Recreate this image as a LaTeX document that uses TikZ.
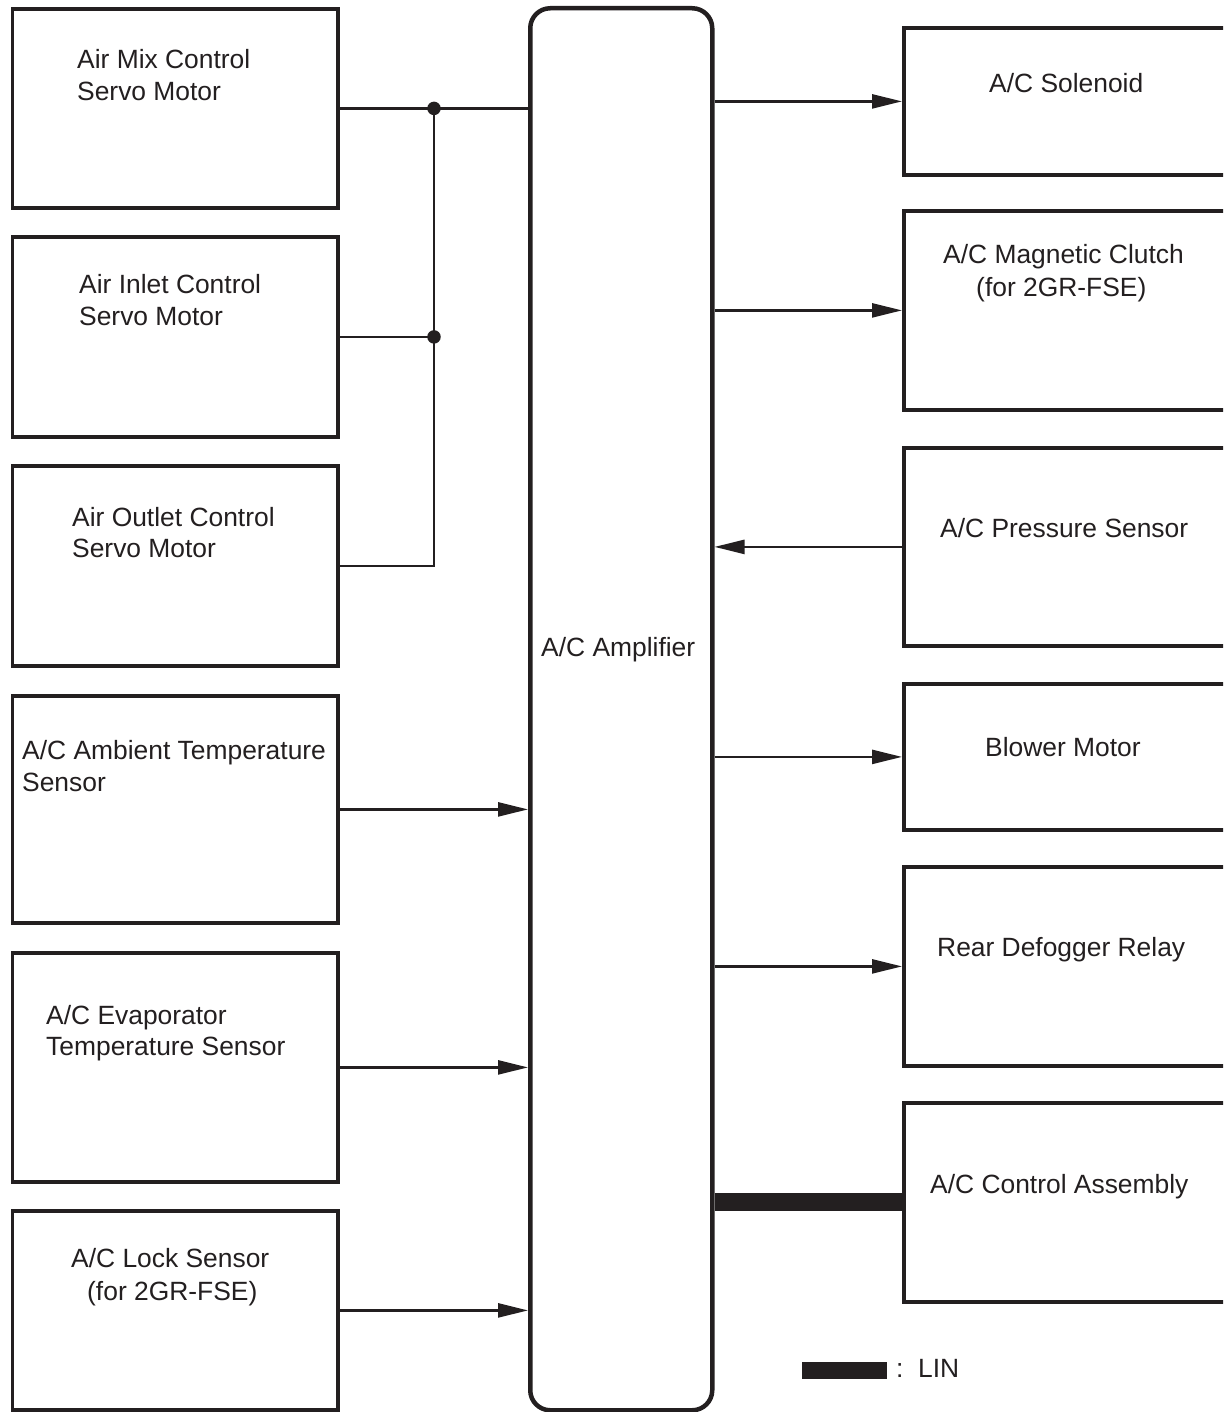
\documentclass[tikz,border=0pt]{standalone}
\usepackage{fontspec}
\setmainfont{Liberation Sans}
\usetikzlibrary{arrows.meta}
\definecolor{ink}{HTML}{231F20}
\begin{document}
\begin{tikzpicture}[x=1pt,y=-1pt,
  box/.style={draw=ink, line width=3.8pt, rectangle, inner sep=0pt, anchor=north west},
  ampbox/.style={draw=ink, line width=4.5pt, rounded corners=20pt, rectangle, inner sep=0pt, anchor=north west},
  txt/.style={text=ink, font=\fontsize{26.4}{32}\selectfont, inner sep=0pt, anchor=base west},
  conn/.style={draw=ink, line width=2.5pt},
  arr/.style={conn, -{Triangle[length=30pt, width=14pt]}},
  linbus/.style={draw=ink, line width=18pt},
  joint/.style={circle, fill=ink, inner sep=0pt, minimum size=13.5pt}
]
% canvas and frame
\fill[white] (0,0) rectangle (1223,1412);
\path[use as bounding box] (0,0) rectangle (1223,1412);
\clip (0,0) rectangle (1223,1412);

% central amplifier
\node[ampbox, minimum width=182pt, minimum height=1402pt] (amp) at (528,6) {};
\node[txt] (ampt) at (541,656) {A/C Amplifier};

% left column
\node[box, minimum width=325.5pt, minimum height=199pt] (a1) at (10.5,7) {};
\node[box, minimum width=325.5pt, minimum height=200pt] (a2) at (10.5,235) {};
\node[box, minimum width=325.5pt, minimum height=200pt] (a3) at (10.5,464) {};
\node[box, minimum width=325.5pt, minimum height=227pt] (a4) at (10.5,694) {};
\node[box, minimum width=325.5pt, minimum height=229pt] (a5) at (10.5,951) {};
\node[box, minimum width=325.5pt, minimum height=199pt] (a6) at (10.5,1209) {};

\node[txt] (a1t1) at (77,69) {Air Mix Control};
\node[txt] (a1t2) at (77,101) {Servo Motor};
\node[txt] (a2t1) at (79,294) {Air Inlet Control};
\node[txt] (a2t2) at (79,325) {Servo Motor};
\node[txt] (a3t1) at (72,526) {Air Outlet Control};
\node[txt] (a3t2) at (72,557) {Servo Motor};
\node[txt] (a4t1) at (22,759) {A/C Ambient Temperature};
\node[txt] (a4t2) at (22,791) {Sensor};
\node[txt] (a5t1) at (46,1024) {A/C Evaporator};
\node[txt] (a5t2) at (46,1055) {Temperature Sensor};
\node[txt] (a6t1) at (71,1267) {A/C Lock Sensor};
\node[txt] (a6t2) at (87,1300) {(for 2GR-FSE)};

% right column (boxes run past the right edge)
\node[box, minimum width=398pt, minimum height=147pt] (r1) at (902,26) {};
\node[box, minimum width=398pt, minimum height=199pt] (r2) at (902,209) {};
\node[box, minimum width=398pt, minimum height=198pt] (r3) at (902,446) {};
\node[box, minimum width=398pt, minimum height=146pt] (r4) at (902,682) {};
\node[box, minimum width=398pt, minimum height=199pt] (r5) at (902,865) {};
\node[box, minimum width=398pt, minimum height=199pt] (r6) at (902,1101) {};

\node[txt] (r1t1) at (989,93) {A/C Solenoid};
\node[txt] (r2t1) at (943,264) {A/C Magnetic Clutch};
\node[txt] (r2t2) at (976,297) {(for 2GR-FSE)};
\node[txt] (r3t1) at (940,537) {A/C Pressure Sensor};
\node[txt] (r4t1) at (985,756) {Blower Motor};
\node[txt] (r5t1) at (937,956) {Rear Defogger Relay};
\node[txt] (r6t1) at (930,1193) {A/C Control Assembly};

% servo motor bus
\coordinate (j1) at (434,0 |- a1.east);
\coordinate (j2) at (434,0 |- a2.east);
\coordinate (j3) at (434,0 |- a3.east);
\draw[conn] (a1.east) -- (amp.west |- a1.east);
\draw[conn] (a2.east) -- (j2);
\draw[conn] (a3.east) -- (j3) -- (j1);
\node[joint] (d1) at (j1) {};
\node[joint] (d2) at (j2) {};

% sensor inputs
\draw[arr] (a4.east) -- (amp.west |- a4.east);
\draw[arr] (a5.east) -- (amp.west |- a5.east);
\draw[arr] (a6.east) -- (amp.west |- a6.east);

% outputs and pressure input
\draw[arr] (amp.east |- r1.west) -- (r1.west);
\draw[arr] (amp.east |- r2.west) -- (r2.west);
\draw[arr] (r3.west) -- (amp.east |- r3.west);
\draw[arr] (amp.east |- r4.west) -- (r4.west);
\draw[arr] (amp.east |- r5.west) -- (r5.west);
\draw[linbus] (amp.east |- r6.west) -- (r6.west);

% legend
\node[fill=ink, minimum width=85pt, minimum height=17pt, inner sep=0pt, anchor=north west] (key) at (802,1362) {};
\node[txt] (keyt) at (896,1377) {:\ \ LIN};
\end{tikzpicture}
\end{document}
